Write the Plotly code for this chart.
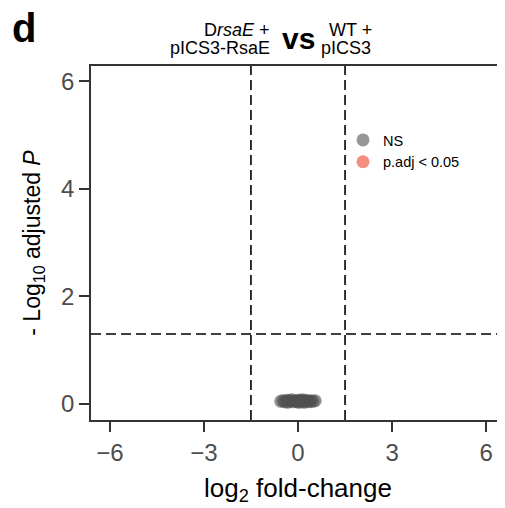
import plotly.graph_objects as go

# ---- data ----
ns_log2fc = [-0.55, -0.48, -0.42, -0.36, -0.30, -0.25, -0.20, -0.15, -0.10, -0.05,
             0.00, 0.04, 0.08, 0.12, 0.17, 0.22, 0.27, 0.32, 0.37, 0.42, 0.48, 0.55, -0.33, 0.02, 0.20]
ns_neglog10p = [0.05, 0.06, 0.04, 0.07, 0.05, 0.06, 0.08, 0.04, 0.06, 0.05,
                0.07, 0.04, 0.06, 0.08, 0.05, 0.07, 0.05, 0.06, 0.04, 0.06, 0.05, 0.06, 0.03, 0.03, 0.03]
sig_log2fc = [None]
sig_neglog10p = [None]

fc_cutoff = [-1.5, 1.5]
p_cutoff = [1.30103]
x_ticks = [-6, -3, 0, 3, 6]
y_ticks = [0, 2, 4, 6]

FONT = "Liberation Sans, Arial, sans-serif"
W, H = 505, 508
OFF = 8  # page body margin: figure origin sits at (8, 8) on screen
ML, MR, MT, MB = 83, 8, 58, 96
PW, PH = W - ML - MR, H - MT - MB


def px_x(sx):
    return (sx - OFF - ML) / PW


def px_y(sy):
    return 1 + (MT - (sy - OFF)) / PH


fig = go.Figure()
fig.add_trace(go.Scatter(x=ns_log2fc, y=ns_neglog10p, mode="markers", name="NS",
                         marker=dict(size=13, color="rgba(80,80,80,0.6)", line=dict(width=0))))
fig.add_trace(go.Scatter(x=sig_log2fc, y=sig_neglog10p, mode="markers", name="p.adj < 0.05",
                         marker=dict(size=13, color="rgba(238,80,55,0.65)", line=dict(width=0))))

for v in fc_cutoff:
    fig.add_vline(x=v, line=dict(color="black", width=1.6, dash="10px,5px"))
for h in p_cutoff:
    fig.add_hline(y=h, line=dict(color="black", width=1.6, dash="10px,5px"))

axis_font = dict(family=FONT, size=24, color="#4d4d4d")
fig.update_xaxes(range=[-6.6, 6.6], tickvals=x_ticks, ticks="outside", ticklen=10, tickwidth=1.6,
                 tickcolor="#333", showline=True, linecolor="#333", linewidth=1.6, mirror=True,
                 showgrid=False, zeroline=False, tickfont=axis_font, automargin=False,
                 title=dict(text="log<sub>2</sub> fold-change", standoff=14,
                            font=dict(family=FONT, size=26, color="black")))
fig.update_yaxes(range=[-0.298, 6.288], tickvals=y_ticks, ticks="outside", ticklen=10, tickwidth=1.6,
                 tickcolor="#333", showline=True, linecolor="#333", linewidth=1.6,
                 showgrid=False, zeroline=False, tickfont=axis_font, automargin=False,
                 title=dict(text="- Log<sub>10</sub> adjusted <i>P</i>", standoff=14,
                            font=dict(family=FONT, size=23, color="black")))


def ann(text, x, y, size, xanchor="center"):
    fig.add_annotation(text=text, xref="paper", yref="paper", x=px_x(x), y=px_y(y),
                       xanchor=xanchor, yanchor="middle", showarrow=False,
                       font=dict(family=FONT, size=size, color="black"))


ann("<b>d</b>", 23.5, 28, 40)
ann("D<i>rsaE</i> +", 272, 30, 18, "right")
ann("pICS3-RsaE", 272, 48, 18, "right")
ann("<b>vs</b>", 298.5, 39, 30)
ann("WT +", 350, 30, 18)
ann("pICS3", 346, 48, 18)

fig.update_layout(width=W, height=H, margin=dict(l=ML, r=MR, t=MT, b=MB),
                  plot_bgcolor="white", paper_bgcolor="white",
                  legend=dict(x=px_x(343), y=px_y(124), xanchor="left", yanchor="top",
                              font=dict(family=FONT, size=14.5, color="black"),
                              bgcolor="rgba(0,0,0,0)", tracegroupgap=0, itemwidth=30))

fig.write_html("out.html")
